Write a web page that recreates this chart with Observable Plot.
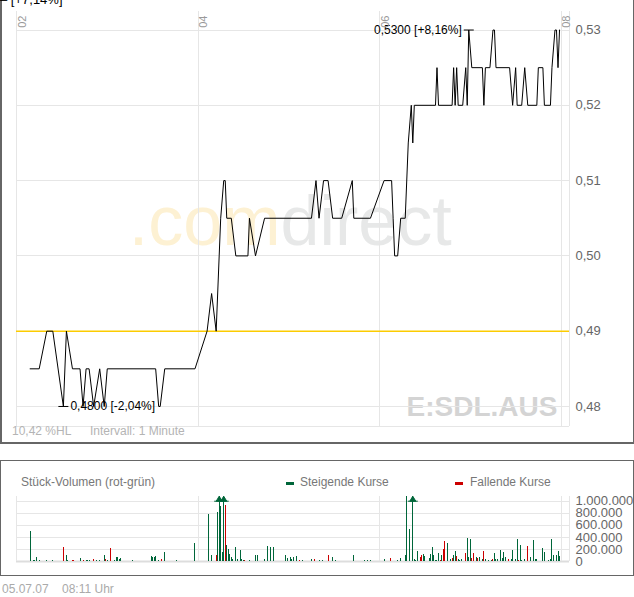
<!DOCTYPE html>
<html><head><meta charset="utf-8">
<script src="https://cdn.jsdelivr.net/npm/d3@7"></script>
<script src="https://cdn.jsdelivr.net/npm/@observablehq/plot@0.6"></script>
<style>
html,body{margin:0;padding:0;background:#fff;}
body{width:634px;height:597px;position:relative;overflow:hidden;font-family:"Liberation Sans",Arial,sans-serif;}
.abs{position:absolute;white-space:nowrap;font-size:12px;line-height:12px;}
#mainbox{position:absolute;left:0;top:-20px;width:631px;height:461px;border:1px solid #666;border-left-width:2px;border-bottom-width:2px;}
#volbox{position:absolute;left:0;top:460px;width:632px;height:114px;border:1px solid #666;}
#chart{position:absolute;left:0;top:0;}
#vol{position:absolute;left:0;top:490px;}
.sw{position:absolute;width:8px;height:3px;}
</style>
</head><body>
<div id="mainbox"></div>
<div id="volbox"></div>
<div id="chart"></div>
<div id="vol"></div>
<div class="abs" style="left:0px;top:-6px;color:#000;font-size:13px;">–&nbsp;[+7,14%]</div>
<div class="abs" style="left:12px;top:425px;color:#b4b4b4;">10,42 %HL</div>
<div class="abs" style="left:90px;top:425px;color:#b4b4b4;">Intervall: 1 Minute</div>
<div class="abs" style="left:21px;top:476px;color:#777;">Stück-Volumen (rot-grün)</div>
<div class="sw" style="left:286px;top:482px;background:#00663a;"></div>
<div class="abs" style="left:300px;top:476px;color:#777;">Steigende Kurse</div>
<div class="sw" style="left:455px;top:482px;background:#cc0000;"></div>
<div class="abs" style="left:470px;top:476px;color:#777;">Fallende Kurse</div>
<div class="abs" style="left:2px;top:583px;color:#aaa;">05.07.07</div>
<div class="abs" style="left:62px;top:583px;color:#aaa;">08:11 Uhr</div>
<script>
// ---------- data ----------
// minutes after 02:00 (05.07.07) and price in AUD
const priceMinutes = [9,15,20,24,31,33,37,42,44,46,48,51,55,58,60,92,94,95,98,118,
  126,129,132,134,135,137,138,139,142,145,153,154,158,164,195,198,200,203,206,209,
  215,222,223,234,243,248,249,250,252,254,257,259,261,262,263,277,278,279,288,289,
  290,291,292,295,297,298,299,301,308,309,310,313,315,316,317,326,328,330,331,334,
  336,338,344,345,348,349,353,354,356,357,358,359];
const priceValues = [0.485,0.485,0.49,0.49,0.48,0.49,0.485,0.485,0.48,0.485,0.485,0.48,0.485,0.48,0.485,0.485,0.48,0.48,0.485,0.485,
  0.49,0.495,0.49,0.50,0.505,0.51,0.51,0.505,0.505,0.50,0.50,0.505,0.50,0.505,0.505,0.51,0.505,0.51,0.51,0.505,
  0.505,0.51,0.505,0.505,0.51,0.51,0.505,0.50,0.50,0.505,0.505,0.515,0.52,0.515,0.52,0.52,0.525,0.52,0.52,0.525,
  0.52,0.525,0.52,0.52,0.525,0.52,0.53,0.525,0.525,0.52,0.525,0.525,0.53,0.53,0.525,0.525,0.52,0.525,0.52,0.52,
  0.525,0.52,0.52,0.525,0.525,0.52,0.52,0.525,0.53,0.53,0.525,0.53];
const refPrice = 0.49;
const priceTicks = [0.48,0.49,0.50,0.51,0.52,0.53];
const priceDomain = [0.47734,0.53246];

const volMinutes = [9,11,12,13,15,20,24,31,33,34,37,38,42,44,46,47,48,51,53,55,58,59,60,62,65,66,67,68,69,77,
  89,90,91,92,94,96,98,106,108,118,127,129,132,133,134,135,136,137,138,139,140,141,142,143,145,146,148,149,150,151,
  154,158,159,164,166,168,170,176,178,179,181,182,183,185,187,189,195,197,200,202,206,209,211,214,222,223,229,230,232,234,
  243,247,249,252,254,257,258,260,262,263,264,265,267,268,269,270,273,274,275,276,277,278,279,280,281,282,283,285,287,288,
  289,290,291,292,293,294,297,298,299,300,301,302,304,305,306,308,309,310,312,314,315,316,317,318,320,321,322,323,325,327,
  328,329,330,331,332,333,334,336,338,340,342,343,344,348,349,352,353,354,355,357,358,359];
const volValues = [500000,17000,17000,66000,17000,10000,10000,226000,100000,17000,10000,10000,50000,22000,10000,10000,10000,33000,22000,10000,100000,33000,22000,215000,17000,66000,66000,33000,50000,17000,
  83000,66000,66000,83000,17000,33000,150000,17000,5000,298000,779000,100000,100000,818000,1500000,917000,155000,1400000,934000,265000,200000,116000,66000,30000,232000,33000,188000,33000,17000,17000,
  17000,100000,100000,33000,249000,232000,232000,5000,100000,50000,66000,33000,66000,83000,17000,17000,33000,33000,17000,10000,100000,66000,17000,5000,5000,100000,5000,17000,17000,17000,
  33000,50000,5000,17000,50000,100000,1070000,536000,1600000,33000,17000,166000,66000,100000,110000,83000,50000,116000,232000,100000,17000,17000,133000,17000,100000,200000,331000,298000,33000,50000,
  100000,166000,83000,33000,17000,33000,133000,381000,66000,365000,50000,133000,66000,50000,66000,33000,166000,33000,17000,17000,33000,133000,33000,33000,182000,50000,150000,66000,33000,33000,
  182000,5000,33000,365000,17000,265000,17000,33000,249000,66000,348000,33000,33000,215000,150000,17000,33000,365000,100000,100000,166000,83000];
const volSide = ("ggggggg" + "rggrrgrgggrgggrgrg" + "gggggg" + "ggggrgggg" + "ggrgggggrgggggggg" + "ggrgg" + "gggggggggggg" + "rgg" + "rggrgggg" +
  "grggggrg" + "gggggggggrrgggggg" + "gggrgrrg" + "grggrgggrgggrrgrg" + "grggg" + "rgggggggrgggggrgggrg").split("");
const volTicks = [0,200000,400000,600000,800000,1000000];
const volDomain = [0,1078000];

const xTickHours = [2,4,6,8];
const xTickLabels = ["02","04","06","08"];
const xDomainMinutes = [0,365.6];

// ---------- helpers ----------
const base = Date.UTC(2007,6,5,2,0);
const toDate = m => new Date(base + m*60000);
const xDomain = xDomainMinutes.map(toDate);
const xTickDates = xTickHours.map(h => toDate((h-2)*60));
const prices = priceMinutes.map((m,i) => ({t: toDate(m), p: priceValues[i]}));
const vols = volMinutes.map((m,i) => ({t: toDate(m), v: volValues[i], side: volSide[i]}));
const GREEN = "#00663a", RED = "#cc0000";
const comma = s => s.replace(".", ",");
const fmtPrice = d => comma(d3.format(".2f")(d));
const de = d3.formatLocale({decimal: ",", thousands: ".", grouping: [3], currency: ["", "€"]});
const fmtVol = de.format(",d");
const pct = v => { const x = (v/refPrice - 1)*100; return (x >= 0 ? "+" : "") + comma(x.toFixed(2)) + "%"; };
const label = d => comma(d.p.toFixed(4)) + " [" + pct(d.p) + "]";
const minPt = prices[d3.minIndex(prices, d => d.p)];
const maxPt = prices[d3.maxIndex(prices, d => d.p)];

const hline = {draw(ctx){ ctx.moveTo(-5,0); ctx.lineTo(5,0); }};
const arrow = {draw(ctx){ ctx.moveTo(-5,0); ctx.lineTo(5,0); ctx.moveTo(-3,0); ctx.lineTo(0,-5); ctx.lineTo(3,0); ctx.closePath(); }};
const FONT = "'Liberation Sans', Arial, sans-serif";
const GRID = "#e6e6e6";

// ---------- price chart ----------
const chart = Plot.plot({
  width: 634, height: 443,
  marginLeft: 16, marginRight: 65, marginTop: 11, marginBottom: 17,
  style: {background: "transparent", fontFamily: FONT, fontSize: "13px", color: "#666", overflow: "visible"},
  x: {type: "utc", domain: xDomain, axis: null},
  y: {domain: priceDomain, axis: "right", ticks: priceTicks, tickFormat: fmtPrice, tickSize: 0, tickPadding: 6, label: null},
  marks: [
    Plot.text([".com"], {frameAnchor: "top-left", dx: 264, dy: 233, textAnchor: "end", lineAnchor: "bottom", fontSize: 70, fill: "#fdf1d3"}),
    Plot.text(["direct"], {frameAnchor: "top-left", dx: 264, dy: 233, textAnchor: "start", lineAnchor: "bottom", fontSize: 70, fill: "#e7e8e8"}),
    Plot.text(["E:SDL.AUS"], {frameAnchor: "bottom-right", dx: -12, dy: -11, textAnchor: "end", lineAnchor: "bottom", fontSize: 28, fontWeight: "bold", fill: "#d4d4d4"}),
    Plot.ruleY(priceTicks, {stroke: GRID, shapeRendering: "crispEdges"}),
    Plot.ruleY([priceDomain[0]], {stroke: GRID, shapeRendering: "crispEdges"}),
    Plot.ruleX(xTickDates, {stroke: GRID, shapeRendering: "crispEdges"}),
    Plot.ruleX([xDomain[1]], {stroke: GRID, shapeRendering: "crispEdges"}),
    Plot.ruleY([refPrice], {stroke: "#fccc00", strokeWidth: 1.6}),
    Plot.line(prices, {x: "t", y: "p", stroke: "#000", strokeWidth: 1}),
    Plot.dot([minPt, maxPt], {x: "t", y: "p", symbol: hline, stroke: "#000", fill: "none", strokeWidth: 1}),
    Plot.text([minPt], {x: "t", y: "p", text: label, textAnchor: "start", dx: 7, fontSize: 12, fill: "#000"}),
    Plot.text([maxPt], {x: "t", y: "p", text: label, textAnchor: "end", dx: -7, fontSize: 12, fill: "#000"}),
    Plot.text(xTickLabels, {x: (d,i) => xTickDates[i], text: d => d, frameAnchor: "top", rotate: -90, textAnchor: "end", lineAnchor: "middle", dx: 5.5, dy: 4, fontSize: 11, fill: "#999"})
  ]
});
document.getElementById("chart").append(chart);

// ---------- volume chart ----------
const clipped = vols.filter(d => d.v > volDomain[1]);
const vol = Plot.plot({
  width: 634, height: 80,
  marginLeft: 16, marginRight: 65, marginTop: 6, marginBottom: 9,
  style: {background: "transparent", fontFamily: FONT, fontSize: "13px", color: "#666", overflow: "visible"},
  x: {type: "utc", domain: xDomain, axis: null},
  y: {domain: volDomain, clamp: true, axis: "right", ticks: volTicks, tickFormat: fmtVol, tickSize: 0, tickPadding: 6, label: null},
  marks: [
    Plot.ruleY(volTicks.slice(1), {stroke: GRID, shapeRendering: "crispEdges"}),
    Plot.ruleY([0], {stroke: "#dddddd", strokeWidth: 2}),
    Plot.ruleX([xDomain[0], ...xTickDates.slice(1), xDomain[1]], {stroke: GRID, shapeRendering: "crispEdges"}),
    Plot.ruleX(vols, {x: "t", y1: 0, y2: "v", stroke: d => d.side === "r" ? RED : GREEN, strokeWidth: 1, shapeRendering: "crispEdges"}),
    Plot.dot(clipped, {x: "t", y: () => volTicks[volTicks.length-1], symbol: arrow, fill: d => d.side === "r" ? RED : GREEN, stroke: d => d.side === "r" ? RED : GREEN, strokeWidth: 1})
  ]
});
document.getElementById("vol").append(vol);
</script>
</body></html>
